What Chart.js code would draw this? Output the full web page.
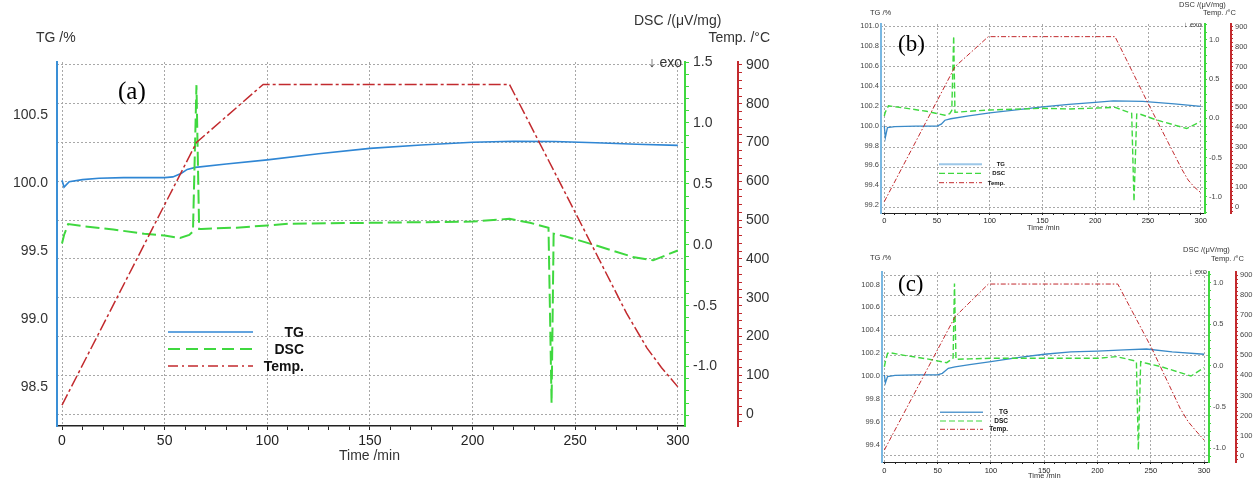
<!DOCTYPE html>
<html>
<head>
<meta charset="utf-8">
<script src="https://cdn.jsdelivr.net/npm/chart.js@4.4.1/dist/chart.umd.min.js"></script>
<style>
    body { margin: 0; width: 1256px; height: 478px; background: #fff; position: relative; overflow: hidden; font-family: "Liberation Sans", Arial, sans-serif; }
    canvas { position: absolute; }
    .t { position: absolute; white-space: nowrap; color: #333; line-height: 1; transform: translateY(-50%); }
    .r { transform: translate(-100%, -50%); }
    .lbl { font-family: "Liberation Serif", "Times New Roman", serif; color: #000; }
    .lg { font-weight: bold; color: #111; }
    svg { position: absolute; overflow: visible; }
</style>
</head>
<body>
<canvas id="chartA" width="800" height="478" style="left:0;top:0"></canvas>
<canvas id="chartB" width="401" height="235" style="left:855px;top:0"></canvas>
<canvas id="chartC" width="401" height="238" style="left:855px;top:240px"></canvas>

<!-- panel (a) texts -->
<div class="t" style="left:36px;top:37px;font-size:14px">TG /%</div>
<div class="t" style="left:634px;top:20px;font-size:14px">DSC /(μV/mg)</div>
<div class="t r" style="left:770px;top:37px;font-size:14px">Temp. /°C</div>
<div class="t r" style="left:682px;top:62px;font-size:14px">↓ exo</div>
<div class="t lbl" style="left:118px;top:90px;font-size:25px">(a)</div>
<div class="t" style="left:339px;top:455px;font-size:14px">Time /min</div>

<!-- panel (b) texts -->
<div class="t" style="left:870px;top:13px;font-size:7.5px">TG /%</div>
<div class="t" style="left:1179px;top:5px;font-size:7.5px">DSC /(μV/mg)</div>
<div class="t r" style="left:1236px;top:13px;font-size:7.5px">Temp. /°C</div>
<div class="t r" style="left:1202px;top:25px;font-size:7.5px">↓ exo</div>
<div class="t lbl" style="left:898px;top:43px;font-size:23px">(b)</div>
<div class="t" style="left:1027px;top:228px;font-size:7.5px">Time /min</div>

<!-- panel (c) texts -->
<div class="t" style="left:870px;top:258px;font-size:7.5px">TG /%</div>
<div class="t" style="left:1183px;top:250px;font-size:7.5px">DSC /(μV/mg)</div>
<div class="t r" style="left:1244px;top:259px;font-size:7.5px">Temp. /°C</div>
<div class="t r" style="left:1207px;top:272px;font-size:7.5px">↓ exo</div>
<div class="t lbl" style="left:898px;top:283px;font-size:23px">(c)</div>
<div class="t" style="left:1028px;top:476px;font-size:7.5px">Time /min</div>

<script>
// tick labels
const timeTicks = [0, 50, 100, 150, 200, 250, 300];
const tempTicks = [0, 100, 200, 300, 400, 500, 600, 700, 800, 900];
const tgTicksA = [98.5, 99.0, 99.5, 100.0, 100.5];
const dscTicksA = [-1.0, -0.5, 0.0, 0.5, 1.0, 1.5];
const tgTicksB = [99.2, 99.4, 99.6, 99.8, 100.0, 100.2, 100.4, 100.6, 100.8, 101.0];
const tgTicksC = [99.4, 99.6, 99.8, 100.0, 100.2, 100.4, 100.6, 100.8];
const dscTicksBC = [-1.0, -0.5, 0.0, 0.5, 1.0];
const seriesNames = ['TG', 'DSC', 'Temp.'];

// panel (a)
const tgTimeA = [0, 1, 3.5, 10, 18, 30, 40, 50, 54, 58, 61, 65, 80, 100, 125, 150, 175, 200, 220, 240, 260, 280, 300];
const tgA = [100.02, 99.97, 100.01, 100.025, 100.035, 100.04, 100.04, 100.04, 100.045, 100.07, 100.10, 100.115, 100.14, 100.17, 100.215, 100.255, 100.28, 100.30, 100.307, 100.305, 100.296, 100.285, 100.277];
const dscTimeA = [0, 1, 3, 10, 25, 40, 50, 57.5, 62, 63.8, 65.5, 66.8, 68, 85, 100, 110, 150, 200, 218, 228, 237, 238.5, 239.5, 245, 260, 278, 288, 300];
const dscA = [0.01, 0.08, 0.17, 0.153, 0.125, 0.09, 0.076, 0.055, 0.08, 0.11, 1.31, 0.13, 0.13, 0.14, 0.158, 0.172, 0.18, 0.19, 0.213, 0.18, 0.14, -1.30, 0.09, 0.07, -0.005, -0.10, -0.128, -0.047];
const tempTimeA = [0, 65.5, 98, 218, 250, 275, 285, 292, 300];
const tempA = [23, 700, 850, 850, 520, 260, 170, 120, 70];

// panel (b)
const tgTimeB = [0, 1, 3, 10, 30, 50, 54, 57.5, 63, 80, 100, 125, 150, 175, 200, 217, 245, 275, 300];
const tgB = [100.0, 99.88, 99.98, 99.99, 99.995, 99.995, 100.015, 100.055, 100.07, 100.10, 100.13, 100.16, 100.19, 100.215, 100.235, 100.25, 100.245, 100.22, 100.195];
const dscTimeB = [0, 1, 4, 20, 40, 57.5, 62, 64, 65.8, 67, 80, 100, 150, 176, 218.8, 234.5, 236.7, 239.3, 241, 258, 286.7, 300];
const dscB = [0.03, 0.08, 0.16, 0.13, 0.09, 0.04, 0.06, 0.10, 1.05, 0.077, 0.09, 0.107, 0.128, 0.12, 0.14, 0.064, -1.06, 0.055, 0.06, -0.02, -0.13, -0.04];
const tempTimeB = [0, 67, 98.6, 218.7, 250, 276, 282, 288, 294, 300];
const tempB = [28, 700, 850, 850, 518, 252, 190, 136, 100, 73];

// panel (c)
const tgTimeC = [0, 1, 3, 10, 30, 50, 54.4, 60, 66.3, 80, 100, 125, 150, 175, 200, 225, 246, 270, 300];
const tgC = [100.01, 99.94, 99.995, 100.005, 100.01, 100.01, 100.023, 100.067, 100.08, 100.10, 100.125, 100.16, 100.19, 100.21, 100.218, 100.228, 100.236, 100.21, 100.19];
const dscTimeC = [0, 1, 3, 5, 20, 40, 58.5, 62, 64.5, 65.8, 67.2, 80, 100, 150, 200, 218, 234.5, 236.5, 238.3, 240.5, 245, 260, 287.7, 300];
const dscC = [-0.015, 0.05, 0.147, 0.155, 0.12, 0.08, 0.034, 0.066, 0.09, 0.99, 0.075, 0.08, 0.087, 0.087, 0.087, 0.107, 0.058, 0.04, -1.02, 0.046, 0.03, -0.015, -0.127, -0.026];
const tempTimeC = [0, 66.3, 97.6, 219, 250.9, 277.5, 285, 291.6, 300];
const tempC = [28, 692, 855, 855, 535, 236, 170, 128, 78];

const FONT = '"Liberation Sans", Arial, sans-serif';
const BLUE = '#2f86d4', GREEN = '#3fd83f', RED = '#c22a2e', GRID = '#a8a8a8';

function near(v, list) {
    return list.some(m => Math.abs(m - v) < 1e-6);
}

function stepTicks(step, min, max) {
    const out = [];
    for (let k = Math.ceil(min / step - 1e-9); k * step <= max + 1e-9; k++) {
        out.push({ value: Math.round(k * step * 1e6) / 1e6 });
    }
    return out;
}

function pts(xs, ys) {
    return xs.map((x, i) => ({ x: x, y: ys[i] }));
}

function axis(o) {
    return {
        type: 'linear',
        position: o.position,
        min: o.min,
        max: o.max,
        bounds: 'data',
        afterFit: s => {
            if (o.position === 'bottom') s.height = o.size; else s.width = o.size;
        },
        afterBuildTicks: s => {
            s.ticks = o.minor ? stepTicks(o.minor, s.min, s.max) : o.majors.map(v => ({ value: v }));
        },
        ticks: {
            autoSkip: false,
            maxRotation: 0,
            padding: o.pad,
            color: o.labelColor,
            font: { family: FONT, size: o.fs },
            callback: v => near(v, o.majors) ? v.toFixed(o.digits) : ''
        },
        grid: {
            drawOnChartArea: !!o.grid,
            drawTicks: o.tick > 0,
            tickLength: o.tick,
            tickColor: o.tickColor || o.color,
            tickWidth: 1,
            lineWidth: 1,
            color: c => (c.tick && near(c.tick.value, o.majors)) ? GRID : 'rgba(0,0,0,0)',
            borderDash: [2, 2]
        },
        border: { color: o.color, width: o.borderW, dash: [2, 2] }
    };
}

function makePanel(id, d, p) {
    new Chart(document.getElementById(id), {
        type: 'line',
        data: {
            datasets: [
                { label: seriesNames[2], data: pts(d.tempTime, d.temp), yAxisID: 'yTemp', borderColor: RED, borderWidth: p.tempLine, borderDash: p.tempDash },
                { label: seriesNames[1], data: pts(d.dscTime, d.dsc), yAxisID: 'yDSC', borderColor: GREEN, borderWidth: p.dscLine, borderDash: p.dscDash },
                { label: seriesNames[0], data: pts(d.tgTime, d.tg), yAxisID: 'yTG', borderColor: p.tgColor, borderWidth: p.tgLine }
            ]
        },
        options: {
            responsive: false,
            animation: false,
            devicePixelRatio: 1,
            layout: { padding: { top: p.padTop, left: 0, right: 0, bottom: 0 } },
            elements: { point: { radius: 0 }, line: { tension: 0 } },
            plugins: { legend: { display: false }, tooltip: { enabled: false } },
            scales: {
                x: axis({ position: 'bottom', min: p.x[0], max: p.x[1], majors: timeTicks, minor: 10, size: p.xH,
                    color: '#222', fs: p.fs, tick: p.tick, pad: p.xPad, digits: 0, grid: true, borderW: p.xBorder, labelColor: '#222' }),
                yTG: axis({ position: 'left', min: p.tg[0], max: p.tg[1], majors: d.tgTicks, size: p.tgW,
                    color: p.tgAxis, fs: p.fs, tick: 0, pad: p.tgPad, digits: 1, borderW: p.yBorder, labelColor: p.labelColor }),
                yDSC: axis({ position: 'right', min: p.dsc[0], max: p.dsc[1], majors: d.dscTicks, minor: 0.1, size: p.dscW,
                    color: GREEN, fs: p.fs, tick: p.tick, pad: p.rPad, digits: 1, borderW: p.yBorder, labelColor: p.labelColor }),
                yTemp: axis({ position: 'right', min: p.temp[0], max: p.temp[1], majors: tempTicks, minor: 20, size: p.tempW,
                    color: RED, fs: p.fs, tick: p.tick, pad: p.rPad, digits: 0, grid: true, borderW: p.yBorder, labelColor: p.labelColor })
            }
        }
    });
}

function legend(l) {
    const svgNS = 'http://www.w3.org/2000/svg';
    const svg = document.createElementNS(svgNS, 'svg');
    svg.setAttribute('width', 1256);
    svg.setAttribute('height', 478);
    svg.style.left = '0px';
    svg.style.top = '0px';
    const colors = [l.tgColor, GREEN, RED];
    l.ys.forEach((y, i) => {
        const ln = document.createElementNS(svgNS, 'line');
        ln.setAttribute('x1', l.x1);
        ln.setAttribute('x2', l.x2);
        ln.setAttribute('y1', y);
        ln.setAttribute('y2', y);
        ln.setAttribute('stroke', colors[i]);
        ln.setAttribute('stroke-width', l.widths[i]);
        if (l.dashes[i]) ln.setAttribute('stroke-dasharray', l.dashes[i]);
        svg.appendChild(ln);

        const t = document.createElement('div');
        t.className = 't r lg';
        t.style.left = l.right + 'px';
        t.style.top = y + 'px';
        t.style.fontSize = l.fs + 'px';
        t.textContent = seriesNames[i];
        document.body.appendChild(t);
    });
    document.body.appendChild(svg);
}

makePanel('chartA',
    { tgTime: tgTimeA, tg: tgA, dscTime: dscTimeA, dsc: dscA, tempTime: tempTimeA, temp: tempA, tgTicks: tgTicksA, dscTicks: dscTicksA },
    { x: [-2.44, 303.5], tg: [98.213, 100.89], dsc: [-1.488, 1.5], temp: [-30.9, 907.7],
      padTop: 62, tgW: 57, dscW: 53, tempW: 62, xH: 52, fs: 14, tick: 4, xPad: 3, tgPad: 9, rPad: 4,
      xBorder: 1.5, yBorder: 2, labelColor: '#333', tgColor: BLUE, tgAxis: '#3a8fd6',
      tgLine: 1.6, dscLine: 2, dscDash: [14, 5], tempLine: 1.5, tempDash: [12, 3, 3, 3] });

makePanel('chartB',
    { tgTime: tgTimeB, tg: tgB, dscTime: dscTimeB, dsc: dscB, tempTime: tempTimeB, temp: tempB, tgTicks: tgTicksB, dscTicks: dscTicksBC },
    { x: [-3.1, 304], tg: [99.121, 101.024], dsc: [-1.208, 1.204], temp: [-28.4, 913],
      padTop: 24, tgW: 26, dscW: 26, tempW: 25, xH: 22, fs: 7.5, tick: 2, xPad: 1.5, tgPad: 2, rPad: 2,
      xBorder: 1, yBorder: 2, labelColor: '#444', tgColor: '#3a8ac8', tgAxis: '#7ab8e2',
      tgLine: 1.3, dscLine: 1.4, dscDash: [6, 3], tempLine: 1, tempDash: [5, 2, 1.5, 2] });

makePanel('chartC',
    { tgTime: tgTimeC, tg: tgC, dscTime: dscTimeC, dsc: dscC, tempTime: tempTimeC, temp: tempC, tgTicks: tgTicksC, dscTicks: dscTicksBC },
    { x: [-2.2, 304.6], tg: [99.248, 100.909], dsc: [-1.165, 1.129], temp: [-31.4, 915],
      padTop: 32, tgW: 27, dscW: 27, tempW: 20, xH: 16, fs: 7.5, tick: 2, xPad: 2, tgPad: 2, rPad: 2,
      xBorder: 1, yBorder: 2, labelColor: '#444', tgColor: '#3a8ac8', tgAxis: '#7ab8e2',
      tgLine: 1.3, dscLine: 1.4, dscDash: [6, 3], tempLine: 1, tempDash: [5, 2, 1.5, 2] });

legend({ x1: 168, x2: 253, ys: [332, 349, 366], right: 304, fs: 14, tgColor: BLUE, widths: [1.3, 2, 1.5], dashes: [null, '12 6', '10 4 2 4'] });
legend({ x1: 939, x2: 982, ys: [164.3, 173.3, 182.7], right: 1005, fs: 6, tgColor: '#9cc7e8', widths: [2, 1.2, 1], dashes: [null, '6 3', '5 2 1 2'] });
legend({ x1: 940, x2: 983, ys: [412.3, 421, 429.3], right: 1008, fs: 6.5, tgColor: '#5a9bd0', widths: [1.5, 1.2, 1], dashes: [null, '6 3', '5 2 1 2'] });
</script>
</body>
</html>
